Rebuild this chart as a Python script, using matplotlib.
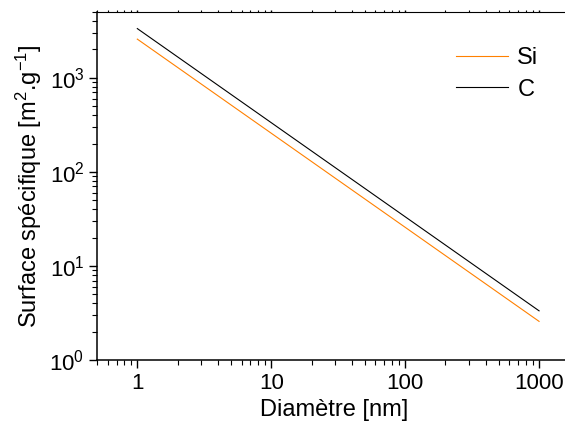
import matplotlib
matplotlib.use("Agg")
import matplotlib.pyplot as plt

plt.rcParams["font.family"] = ["Liberation Sans", "DejaVu Sans"]

# data (straight lines on log-log)
diametre = [1, 10, 100, 1000]
surface_si = [2575, 257.5, 25.75, 2.575]
surface_c = [3333, 333.3, 33.33, 3.333]

fig = plt.figure(figsize=(5.65, 4.29), dpi=100)
ax = fig.add_axes([0.1717, 0.1608, 0.84, 0.8112])

ax.plot(diametre, surface_si, color="#FF8000", lw=0.8, label="Si")
ax.plot(diametre, surface_c, color="black", lw=0.8, label="C")

ax.set_xscale("log")
ax.set_yscale("log")
ax.set_xlim(0.5, 1750)
ax.set_ylim(1, 5000)

ax.set_xticks([1, 10, 100, 1000])
ax.set_xticklabels(["1", "10", "100", "1000"])
ax.set_yticks([1, 10, 100, 1000])
ax.set_yticklabels([r"$\mathregular{10^{0}}$", r"$\mathregular{10^{1}}$",
                    r"$\mathregular{10^{2}}$", r"$\mathregular{10^{3}}$"])

ax.spines["right"].set_visible(False)
ax.spines["left"].set_linewidth(1.1)
ax.spines["bottom"].set_linewidth(1.1)
ax.spines["top"].set_linewidth(0.8)

ax.tick_params(which="major", direction="out", length=6, width=1.0,
               labelsize=16, pad=3)
ax.tick_params(which="minor", direction="out", length=3.5, width=0.8)
ax.tick_params(axis="x", which="both", top=True)

ax.set_xlabel("Diamètre [nm]", fontsize=17, labelpad=4)
ax.set_ylabel(r"Surface spécifique [m$\mathregular{^2}$.g$\mathregular{^{-1}}$]",
              fontsize=17, labelpad=4)

# very short ticks on the top spine
for t in ax.xaxis.get_major_ticks() + ax.xaxis.get_minor_ticks():
    t.tick2line.set_markersize(1.5)

ax.legend(loc="upper right", bbox_to_anchor=(0.975, 0.96), frameon=False,
          fontsize=17, handlelength=2.2, handletextpad=0.4, labelspacing=0.4)

fig.savefig("out.png", dpi=100)
